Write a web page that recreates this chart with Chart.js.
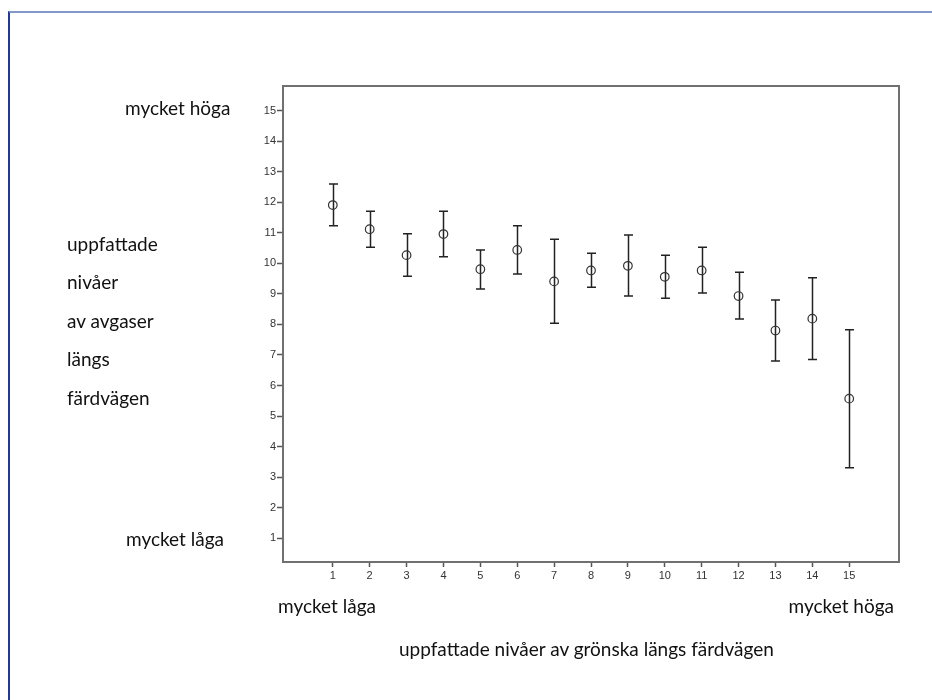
<!DOCTYPE html>
<html>
<head>
<meta charset="utf-8">
<script src="https://cdn.jsdelivr.net/npm/chart.js@4/dist/chart.umd.min.js"></script>
<style>
html, body { margin: 0; padding: 0; background: #fff; }
#wrap { position: relative; width: 932px; height: 700px; overflow: hidden; }
#frame { position: absolute; left: 8px; top: 11px; width: 924px; height: 689px;
         border-top: 2px solid #8497c9; border-left: 2px solid #1e3a96; }
canvas { position: absolute; left: 0; top: 0; }
.lbl { position: absolute; font-family: Lato, 'Open Sans', sans-serif; font-size: 19px;
       color: #111; white-space: nowrap; line-height: 20px; }
</style>
</head>
<body>
<div id="wrap">
  <div id="frame"></div>
  <canvas id="errChart" width="932" height="700"></canvas>

  <!-- y axis annotations -->
  <div class="lbl" style="left:125px;top:98px">mycket höga</div>
  <div class="lbl" style="left:67px;top:234px">uppfattade</div>
  <div class="lbl" style="left:67px;top:272px">nivåer</div>
  <div class="lbl" style="left:67px;top:311px">av avgaser</div>
  <div class="lbl" style="left:67px;top:349px">längs</div>
  <div class="lbl" style="left:67px;top:388px">färdvägen</div>
  <div class="lbl" style="left:126px;top:529px">mycket låga</div>

  <!-- x axis annotations -->
  <div class="lbl" style="left:278px;top:596px">mycket låga</div>
  <div class="lbl" style="right:38px;top:596px">mycket höga</div>
  <div class="lbl" style="left:399px;top:639px">uppfattade nivåer av grönska längs färdvägen</div>
</div>

<script>
// greenery level (x) and perceived exhaust level: mean with error bar ends
const categories = [1, 2, 3, 4, 5, 6, 7, 8, 9, 10, 11, 12, 13, 14, 15];
const means = [11.91, 11.12, 10.27, 10.96, 9.81, 10.44, 9.41, 9.77, 9.92, 9.56, 9.77, 8.93, 7.80, 8.19, 5.57];
const upper = [12.60, 11.71, 10.97, 11.71, 10.44, 11.23, 10.79, 10.33, 10.93, 10.27, 10.53, 9.71, 8.80, 9.53, 7.83];
const lower = [11.23, 10.53, 9.58, 10.22, 9.16, 9.65, 8.04, 9.22, 8.93, 8.86, 9.03, 8.18, 6.80, 6.85, 3.31];

const xTicks = [1, 2, 3, 4, 5, 6, 7, 8, 9, 10, 11, 12, 13, 14, 15];
const yTicks = [1, 2, 3, 4, 5, 6, 7, 8, 9, 10, 11, 12, 13, 14, 15];

// frame around the plot area
const framePlugin = {
    id: 'frame',
    beforeDatasetsDraw(chart) {
        const a = chart.chartArea;
        const ctx = chart.ctx;
        ctx.save();
        ctx.strokeStyle = '#707070';
        ctx.lineWidth = 2;
        ctx.strokeRect(a.left, a.top, a.right - a.left, a.bottom - a.top);
        ctx.restore();
    }
};

// vertical error bars with caps
const errorBarPlugin = {
    id: 'errorBars',
    beforeDatasetsDraw(chart) {
        const ctx = chart.ctx;
        const xs = chart.scales.x;
        const ys = chart.scales.y;
        ctx.save();
        ctx.strokeStyle = '#222';
        ctx.lineWidth = 1.5;
        categories.forEach(function(c, i) {
            const x = Math.round(xs.getPixelForValue(c)) + 0.5;
            const yTop = ys.getPixelForValue(upper[i]);
            const yBot = ys.getPixelForValue(lower[i]);
            ctx.beginPath();
            ctx.moveTo(x, yTop);
            ctx.lineTo(x, yBot);
            ctx.moveTo(x - 4.5, yTop);
            ctx.lineTo(x + 4.5, yTop);
            ctx.moveTo(x - 4.5, yBot);
            ctx.lineTo(x + 4.5, yBot);
            ctx.stroke();
        });
        ctx.restore();
    }
};

const ctx = document.getElementById('errChart').getContext('2d');
new Chart(ctx, {
    type: 'scatter',
    data: {
        datasets: [{
            data: categories.map((c, i) => ({ x: c, y: means[i] })),
            pointStyle: 'circle',
            pointRadius: 4.3,
            pointBorderWidth: 1.2,
            pointBorderColor: '#333',
            pointBackgroundColor: 'rgba(0,0,0,0)'
        }]
    },
    options: {
        responsive: false,
        animation: false,
        layout: { padding: { left: 243, right: 33, top: 86, bottom: 108 } },
        plugins: {
            legend: { display: false },
            tooltip: { enabled: false }
        },
        scales: {
            x: {
                type: 'linear',
                min: -0.35,
                max: 16.35,
                afterBuildTicks: (axis) => { axis.ticks = xTicks.map(v => ({ value: v })); },
                afterFit: (axis) => { axis.height = 30; },
                border: { display: false },
                grid: { drawOnChartArea: false, drawTicks: true, tickLength: 5, tickWidth: 1.5, tickColor: '#555' },
                ticks: {
                    autoSkip: false,
                    maxRotation: 0,
                    padding: 2,
                    color: '#333',
                    font: { family: "'Liberation Sans', Arial, sans-serif", size: 11 }
                }
            },
            y: {
                type: 'linear',
                min: 0.22,
                max: 15.81,
                afterBuildTicks: (axis) => { axis.ticks = yTicks.map(v => ({ value: v })); },
                afterFit: (axis) => { axis.width = 40; },
                border: { display: false },
                grid: { drawOnChartArea: false, drawTicks: true, tickLength: 6, tickWidth: 1.5, tickColor: '#555' },
                ticks: {
                    autoSkip: false,
                    padding: 1,
                    color: '#333',
                    font: { family: "'Liberation Sans', Arial, sans-serif", size: 11 }
                }
            }
        }
    },
    plugins: [framePlugin, errorBarPlugin]
});
</script>
</body>
</html>
